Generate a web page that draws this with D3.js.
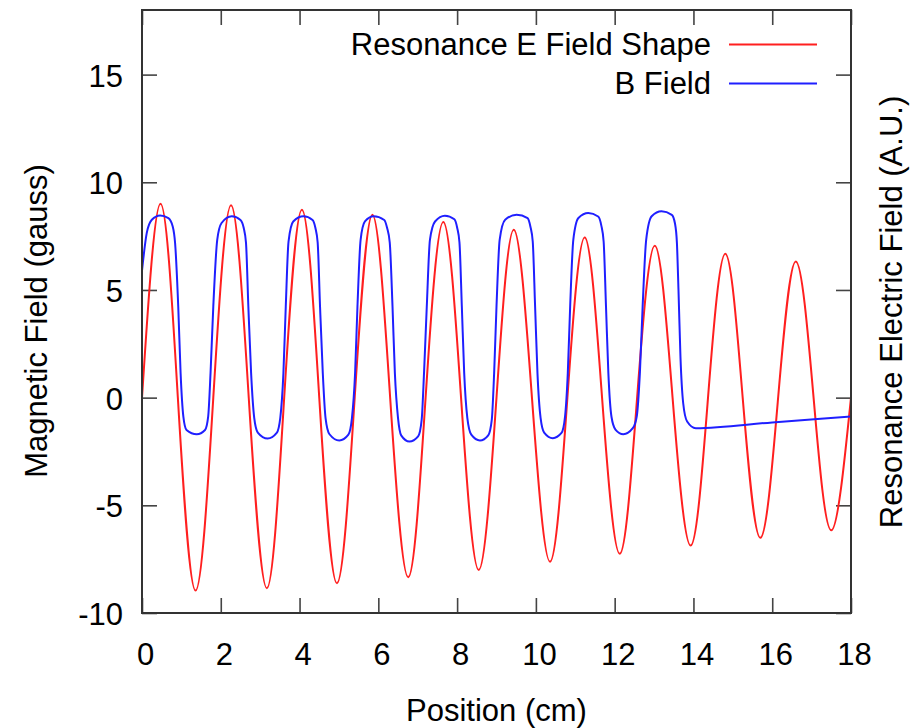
<!DOCTYPE html>
<html>
<head>
<meta charset="utf-8">
<script src="https://cdn.jsdelivr.net/npm/d3@7"></script>
<style>
  body { margin: 0; background: #fff; }
  svg text { font-family: "Liberation Sans", Arial, Helvetica, sans-serif; fill: #000; }
</style>
</head>
<body>
<svg id="chart" width="910" height="728"></svg>
<script>
// Axis ticks
const xTicks = [0, 2, 4, 6, 8, 10, 12, 14, 16, 18];
const yTicks = [-10, -5, 0, 5, 10, 15];

// Series labels
const seriesNames = ["Resonance E Field Shape", "B Field"];

// Resonance E field shape: position (cm) and value
const ePos = [0.00, 0.47, 0.91, 1.36, 1.81, 2.26, 2.71, 3.17, 3.61, 4.06,
              4.50, 4.95, 5.40, 5.85, 6.30, 6.76, 7.20, 7.65, 8.10, 8.55,
              9.00, 9.44, 9.90, 10.36, 10.80, 11.24, 11.68, 12.13, 12.57, 13.02,
              13.47, 13.93, 14.37, 14.81, 15.25, 15.70, 16.15, 16.60, 17.05, 17.50,
              18.00];
const eVal = [0.00, 9.00, 0.00, -8.96, 0.00, 8.93, 0.00, -8.85, 0.00, 8.73,
              0.00, -8.62, 0.00, 8.49, 0.00, -8.34, 0.00, 8.16, 0.00, -8.00,
              0.00, 7.80, 0.00, -7.62, 0.00, 7.44, 0.00, -7.25, 0.00, 7.05,
              0.00, -6.87, 0.00, 6.68, 0.00, -6.51, 0.00, 6.32, 0.00, -6.16,
              0.00];

// Magnetic field: position (cm) and value (gauss)
const bPos = [0.00, 0.12, 0.25, 0.46, 0.67, 0.78, 0.84, 0.92, 0.98, 1.05,
              1.13, 1.39, 1.60, 1.68, 1.74, 1.81, 1.91, 2.02, 2.28, 2.50,
              2.58, 2.64, 2.70, 2.77, 2.85, 2.94, 3.19, 3.42, 3.51, 3.59,
              3.65, 3.72, 3.84, 4.10, 4.33, 4.40, 4.46, 4.52, 4.59, 4.66,
              4.76, 5.01, 5.24, 5.33, 5.41, 5.47, 5.55, 5.66, 5.88, 6.15,
              6.22, 6.29, 6.36, 6.42, 6.50, 6.58, 6.79, 7.01, 7.10, 7.16,
              7.23, 7.31, 7.44, 7.69, 7.93, 8.00, 8.06, 8.12, 8.18, 8.26,
              8.36, 8.58, 8.79, 8.88, 8.94, 9.00, 9.08, 9.22, 9.51, 9.79,
              9.86, 9.92, 9.98, 10.04, 10.12, 10.21, 10.43, 10.65, 10.74, 10.81,
              10.87, 10.95, 11.08, 11.33, 11.58, 11.66, 11.72, 11.78, 11.84, 11.92,
              12.02, 12.22, 12.46, 12.56, 12.64, 12.71, 12.80, 12.94, 13.19, 13.45,
              13.53, 13.58, 13.62, 13.67, 13.74, 13.84, 14.06, 16.00, 18.00];
const bVal = [5.90, 7.64, 8.26, 8.46, 8.34, 7.95, 7.18, 4.23, 1.14, -0.88,
              -1.50, -1.70, -1.50, -0.88, 1.14, 4.23, 7.33, 8.11, 8.42, 8.25,
              7.90, 7.20, 4.23, 1.14, -0.95, -1.62, -1.90, -1.64, -0.95, 1.14,
              4.23, 7.25, 8.18, 8.42, 8.25, 7.90, 7.20, 4.23, 1.14, -0.95,
              -1.70, -1.99, -1.72, -0.95, 1.14, 4.23, 7.33, 8.18, 8.42, 8.25,
              7.90, 7.20, 4.23, 1.14, -0.95, -1.75, -2.04, -1.80, -1.03, 1.14,
              4.23, 7.33, 8.18, 8.45, 8.28, 7.90, 7.20, 4.23, 1.14, -0.95,
              -1.72, -1.99, -1.75, -1.03, 1.14, 4.23, 7.33, 8.26, 8.49, 8.34,
              7.95, 7.25, 4.23, 1.14, -0.95, -1.62, -1.88, -1.64, -0.88, 1.14,
              4.23, 7.33, 8.34, 8.57, 8.41, 8.00, 7.25, 4.23, 1.14, -0.90,
              -1.48, -1.70, -1.42, -0.88, 1.14, 4.23, 7.33, 8.42, 8.65, 8.49,
              8.10, 7.20, 5.01, 1.91, -0.26, -1.11, -1.42, -1.15, -0.87];

const plot = { left: 142, right: 851, top: 10, bottom: 613 };
const fontSize = 31;

const svg = d3.select("#chart");

const x = d3.scaleLinear().domain([0, 18]).range([plot.left, plot.right]);
const y = d3.scaleLinear().domain([-10, 18]).range([plot.bottom, plot.top]);

// Clip the curves to the plotting frame
svg.append("defs").append("clipPath").attr("id", "plot-clip")
  .append("rect")
  .attr("x", plot.left).attr("y", plot.top)
  .attr("width", plot.right - plot.left)
  .attr("height", plot.bottom - plot.top);

const tickLen = 15;
const plainNumber = d => String(d);   // ASCII hyphen for negatives

function styleAxis(g) {
  g.select(".domain").remove();
  g.selectAll(".tick line").attr("stroke", "#444").attr("stroke-width", 1.6);
  g.selectAll(".tick text")
    .style("font-size", fontSize + "px")
    .attr("fill", "#000");
}

// Bottom axis with labels
svg.append("g")
  .attr("transform", `translate(0,${plot.bottom})`)
  .call(d3.axisBottom(x).tickValues(xTicks).tickSize(-tickLen).tickPadding(30).tickFormat(plainNumber))
  .call(styleAxis)
  .call(g => g.selectAll(".tick text").attr("dx", 3));

// Left axis with labels
svg.append("g")
  .attr("transform", `translate(${plot.left},0)`)
  .call(d3.axisLeft(y).tickValues(yTicks).tickSize(-tickLen).tickPadding(19).tickFormat(plainNumber))
  .call(styleAxis)
  .call(g => g.selectAll(".tick text").attr("dy", "0.37em"));

// Mirrored ticks on top and right
svg.append("g")
  .attr("transform", `translate(0,${plot.top})`)
  .call(d3.axisTop(x).tickValues(xTicks).tickSize(-tickLen).tickFormat(""))
  .call(styleAxis);

svg.append("g")
  .attr("transform", `translate(${plot.right},0)`)
  .call(d3.axisRight(y).tickValues(yTicks).tickSize(-tickLen).tickFormat(""))
  .call(styleAxis);

// Curves
const eData = ePos.map((p, i) => [p, eVal[i]]);
const bData = bPos.map((p, i) => [p, bVal[i]]);

const eLine = d3.line().x(d => x(d[0])).y(d => y(d[1])).curve(d3.curveNatural);
const bLine = d3.line().x(d => x(d[0])).y(d => y(d[1])).curve(d3.curveMonotoneX);

const curves = svg.append("g").attr("clip-path", "url(#plot-clip)");
curves.append("path")
  .attr("d", eLine(eData))
  .attr("fill", "none")
  .attr("stroke", "#ff1f1f")
  .attr("stroke-width", 2);
curves.append("path")
  .attr("d", bLine(bData))
  .attr("fill", "none")
  .attr("stroke", "#1f1fff")
  .attr("stroke-width", 2);

// Frame
svg.append("rect")
  .attr("x", plot.left).attr("y", plot.top)
  .attr("width", plot.right - plot.left)
  .attr("height", plot.bottom - plot.top)
  .attr("fill", "none")
  .attr("stroke", "#333")
  .attr("stroke-width", 2);

// Legend
const legend = [
  { name: seriesNames[0], color: "#ff1f1f", y: 44.5 },
  { name: seriesNames[1], color: "#1f1fff", y: 83.5 }
];
legend.forEach(item => {
  svg.append("text")
    .attr("x", 711).attr("y", item.y + 10.5)
    .attr("text-anchor", "end")
    .style("font-size", fontSize + "px")
    .text(item.name);
  svg.append("line")
    .attr("x1", 729).attr("x2", 817)
    .attr("y1", item.y).attr("y2", item.y)
    .attr("stroke", item.color)
    .attr("stroke-width", 2);
});

// Axis titles
svg.append("text")
  .attr("x", (plot.left + plot.right) / 2).attr("y", 721)
  .attr("text-anchor", "middle")
  .style("font-size", fontSize + "px")
  .text("Position (cm)");

svg.append("text")
  .attr("transform", "translate(47,321) rotate(-90)")
  .attr("text-anchor", "middle")
  .style("font-size", fontSize + "px")
  .text("Magnetic Field (gauss)");

svg.append("text")
  .attr("transform", "translate(902,312) rotate(-90)")
  .attr("text-anchor", "middle")
  .style("font-size", fontSize + "px")
  .text("Resonance Electric Field (A.U.)");
</script>
</body>
</html>
